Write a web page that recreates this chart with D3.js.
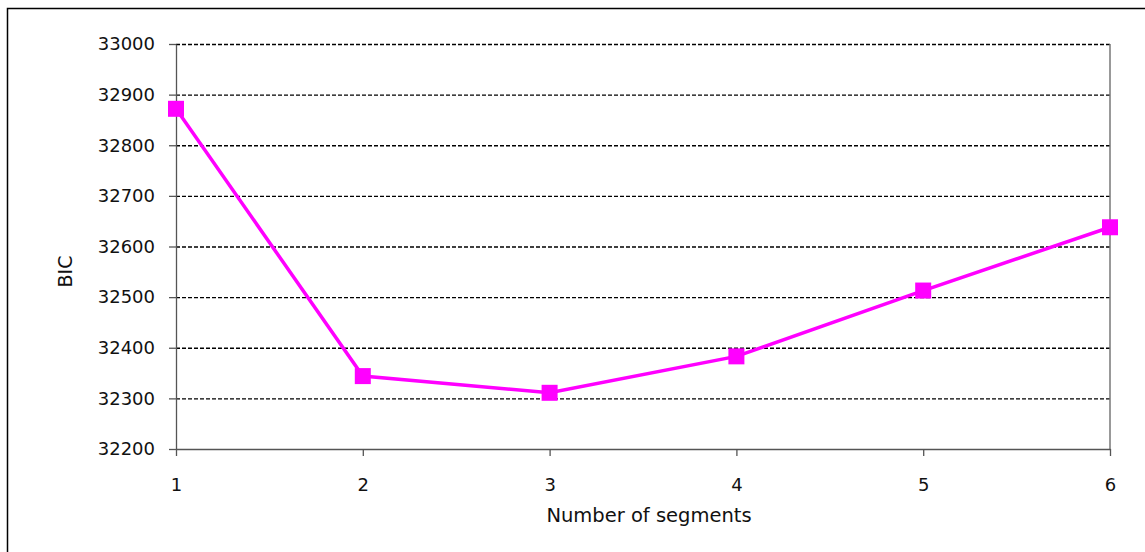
<!DOCTYPE html>
<head>
  <meta charset="utf-8">
  <style>
    body { margin: 0; background: #fff; }
    svg text { font-family: "DejaVu Sans", sans-serif; fill: #111; }
    svg .grid line { stroke: #000; stroke-width: 1.3px; stroke-dasharray: 4,2; }
    svg .grid .domain { display: none; }
    svg .axis .domain, svg .axis .tick line { stroke: #555; stroke-width: 1.3px; }
  </style>
</head>
<body>
<script src="https://d3js.org/d3.v7.min.js"></script>
<script>
  // data
  var segments = [1, 2, 3, 4, 5, 6];
  var bic = [32872, 32344, 32311, 32383, 32513, 32638];
  var yTicks = [32200, 32300, 32400, 32500, 32600, 32700, 32800, 32900, 33000];

  var W = 1145, H = 552;
  var plot = { left: 176, top: 44, right: 1110, bottom: 449 };

  var svg = d3.select("body").append("svg")
      .attr("width", W)
      .attr("height", H);

  // outer frame (left + top edges visible)
  svg.append("rect")
      .attr("x", 7.5).attr("y", 8.5)
      .attr("width", 1160).attr("height", 600)
      .style("fill", "none")
      .style("stroke", "#000")
      .style("stroke-width", "1.5px");

  var x = d3.scaleLinear().domain([1, 6]).range([plot.left, plot.right]);
  var y = d3.scaleLinear().domain([32200, 33000]).range([plot.bottom, plot.top]);

  // dashed horizontal gridlines
  svg.append("g")
      .classed("grid", true)
      .attr("transform", "translate(" + plot.left + ",0)")
      .call(d3.axisRight(y).tickValues(yTicks.slice(1)).tickSize(plot.right - plot.left).tickFormat(""));

  // right border of plot
  svg.append("line")
      .attr("x1", plot.right).attr("x2", plot.right)
      .attr("y1", plot.top).attr("y2", plot.bottom)
      .style("stroke", "#777")
      .style("stroke-width", "1.5px");

  // y axis
  var ya = svg.append("g")
      .classed("axis", true)
      .attr("transform", "translate(" + plot.left + ",0)")
      .call(d3.axisLeft(y).tickValues(yTicks).tickSize(7).tickSizeOuter(0).tickPadding(14).tickFormat(d3.format("d")));
  ya.selectAll(".tick text").style("font-size", "18px");

  // x axis
  var xa = svg.append("g")
      .classed("axis", true)
      .attr("transform", "translate(0," + plot.bottom + ")")
      .call(d3.axisBottom(x).tickValues(segments).tickSize(7).tickSizeOuter(0).tickPadding(22).tickFormat(d3.format("d")));
  xa.selectAll(".tick text").style("font-size", "18px");

  // axis titles
  svg.append("text")
      .attr("x", (plot.left + plot.right) / 2 + 6)
      .attr("y", 522)
      .attr("text-anchor", "middle")
      .style("font-size", "19.5px")
      .text("Number of segments");

  svg.append("text")
      .attr("transform", "translate(72," + ((plot.top + plot.bottom) / 2 + 25) + ") rotate(-90)")
      .attr("text-anchor", "middle")
      .style("font-size", "19px")
      .text("BIC");

  // series
  var line = d3.line()
      .x(function (d, i) { return x(segments[i]); })
      .y(function (d) { return y(d); });

  svg.append("path")
      .attr("d", line(bic))
      .style("fill", "none")
      .style("stroke", "#FF00FF")
      .style("stroke-width", "3.5px");

  var m = 16;
  svg.selectAll("rect.marker")
      .data(bic)
      .enter().append("rect")
      .classed("marker", true)
      .attr("x", function (d, i) { return x(segments[i]) - m / 2; })
      .attr("y", function (d) { return y(d) - m / 2; })
      .attr("width", m)
      .attr("height", m)
      .style("fill", "#FF00FF");
</script>
</body>
</html>
